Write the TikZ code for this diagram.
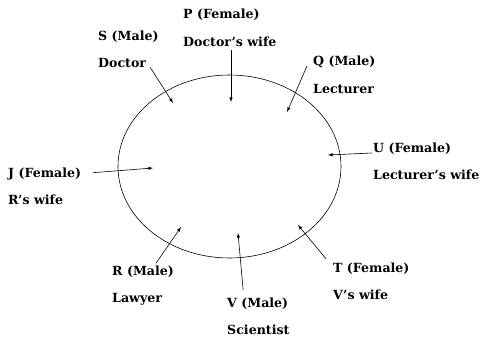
\documentclass[tikz,border=0pt]{standalone}
\usepackage{fontspec}
\setmainfont{DejaVu Serif}
\usetikzlibrary{positioning}

\begin{document}
\begin{tikzpicture}[x=1pt, y=-1pt,
    lbl/.style={anchor=base west, inner sep=1pt, font=\fontsize{12.6}{14}\selectfont\bfseries},
    arr/.style={->, >=latex, line width=0.6pt}]
    \def\gap{27};
    \useasboundingbox (0,0) rectangle (483,340);

    \draw[line width=0.6pt] (229.5,166.5) ellipse [x radius=111.5, y radius=91.5];

    % names and roles
    \node[lbl] (P) at (182,19) {P (Female)};
    \node[lbl] (Pr) at (182,19+\gap) {Doctor's wife};
    \node[lbl] (S) at (97,40) {S (Male)};
    \node[lbl] (Sr) at (97,40+\gap) {Doctor};
    \node[lbl] (Q) at (312,66) {Q (Male)};
    \node[lbl] (Qr) at (312,66+\gap) {Lecturer};
    \node[lbl] (U) at (372,152) {U (Female)};
    \node[lbl] (Ur) at (372,152+\gap) {Lecturer's wife};
    \node[lbl] (J) at (7,177) {J (Female)};
    \node[lbl] (Jr) at (7,177+\gap) {R's wife};
    \node[lbl] (R) at (111,275) {R (Male)};
    \node[lbl] (Rr) at (111,275+\gap) {Lawyer};
    \node[lbl] (V) at (226,307) {V (Male)};
    \node[lbl] (Vr) at (226,307+\gap) {Scientist};
    \node[lbl] (T) at (332,272) {T (Female)};
    \node[lbl] (Tr) at (332,272+\gap) {V's wife};

    % seats on the table
    \coordinate (sS) at (173,103);
    \coordinate (sP) at (231,102);
    \coordinate (sQ) at (287,112);
    \coordinate (sU) at (328,155);
    \coordinate (sJ) at (153,168);
    \coordinate (sR) at (181,227);
    \coordinate (sV) at (238,233);
    \coordinate (sT) at (298,225);

    \draw[arr] ([xshift=3pt, yshift=1pt]Sr.south east) -- (sS);
    \draw[arr, shorten <=3pt] (sP |- Pr.south) -- (sP);
    \draw[arr] ([xshift=-5pt]Q.base west) -- (sQ);
    \draw[arr] ([yshift=-1pt]U.base west) -- (sU);
    \draw[arr, shorten <=11pt] (J.east) -- (sJ);
    \draw[arr] ([xshift=13pt, yshift=1pt]R.north) -- (sR);
    \draw[arr, shorten <=6pt] ([xshift=-14pt]V.north) -- (sV);
    \draw[arr, shorten <=3pt] ([xshift=-4pt]T.north west) -- (sT);
\end{tikzpicture}
\end{document}
